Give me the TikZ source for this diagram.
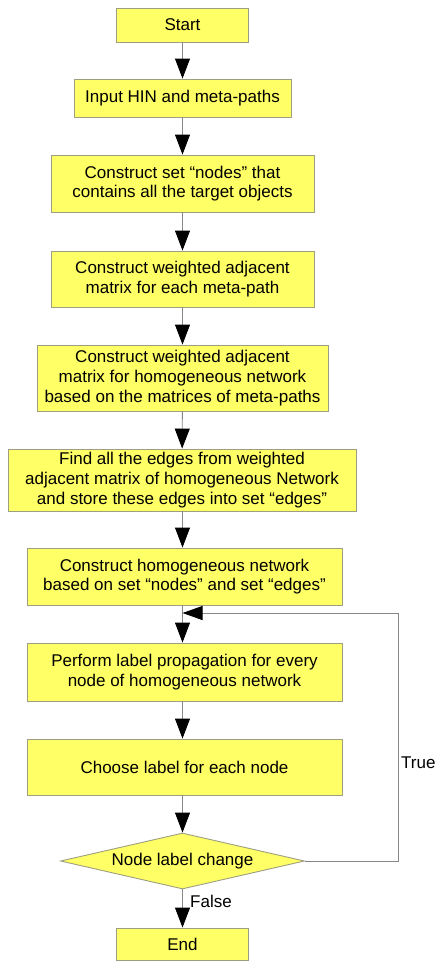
\documentclass[tikz,border=0pt]{standalone}
\usepackage{fontspec}
\setmainfont{Liberation Sans}
\usetikzlibrary{shapes.geometric,arrows.meta}
\definecolor{boxfill}{RGB}{255,255,102}
\definecolor{boxline}{RGB}{158,158,128}
\definecolor{wire}{RGB}{135,135,135}
\tikzset{
  flowbox/.style={draw=boxline, fill=boxfill, line width=0.9pt, inner sep=0pt,
    align=center, font=\fontsize{17}{19.6}\selectfont, text=black},
  decision/.style={flowbox, diamond, aspect=4.36},
  arr/.style={draw=wire, line width=0.9pt,
    -{Triangle[width=15pt,length=20pt,color=black]}},
  backarr/.style={draw=wire, line width=0.9pt,
    -{Triangle[width=14pt,length=20pt,color=black]}},
  lbl/.style={font=\fontsize{17}{19.6}\selectfont, inner sep=0pt, text=black}
}
\begin{document}
\begin{tikzpicture}[x=1pt,y=-1pt]
\useasboundingbox (0,0) rectangle (435,962);

\node[flowbox, minimum width=132pt, minimum height=34pt] (start) at (182.5,25) {Start};
\node[flowbox, minimum width=217pt, minimum height=38pt] (input) at (182.5,98) {Input HIN and meta-paths};
\node[flowbox, minimum width=263pt, minimum height=57pt] (nodeset) at (182.5,183.5)
  {Construct set “nodes” that\\contains all the target objects};
\node[flowbox, minimum width=263pt, minimum height=56pt] (wadj) at (182.5,279)
  {Construct weighted adjacent\\matrix for each meta-path};
\node[flowbox, minimum width=291pt, minimum height=66pt] (hadj) at (182.5,378)
  {Construct weighted adjacent\\matrix for homogeneous network\\based on the matrices of meta-paths};
\node[flowbox, minimum width=348pt, minimum height=62pt] (edges) at (182,480)
  {Find all the edges from weighted\\adjacent matrix of homogeneous Network\\and store these edges into set “edges”};
\node[flowbox, minimum width=315pt, minimum height=57pt] (hnet) at (184.5,576.5)
  {Construct homogeneous network\\based on set “nodes” and set “edges”};
\node[flowbox, minimum width=315pt, minimum height=58pt] (prop) at (184.5,672)
  {Perform label propagation for every\\node of homogeneous network};
\node[flowbox, minimum width=315pt, minimum height=56pt] (choose) at (184.5,767)
  {Choose label for each node};
\node[decision, minimum width=244pt, minimum height=56pt] (change) at (182.5,861)
  {Node label change};
\node[flowbox, minimum width=132pt, minimum height=32pt] (stop) at (182.5,944) {End};

% main flow
\draw[arr] (start) -- (input);
\draw[arr] (input) -- (nodeset);
\draw[arr] (nodeset) -- (wadj);
\draw[arr] (wadj) -- (hadj);
\draw[arr] (hadj) -- (edges);
\draw[arr] (hnet.south -| start) -- (prop.north -| start);
\draw[arr] (edges.south -| start) -- (hnet.north -| start);
\draw[arr] (prop.south -| start) -- (choose.north -| start);
\draw[arr] (choose.south -| start) -- (change);
\draw[arr] (change) -- (stop);

% loop back when labels changed
\coordinate (loopR) at (398,861);
\coordinate (loopT) at (398,613);
\coordinate (joint) at (start |- loopT);
\draw[backarr] (change.east) -- (loopR) -- (loopT) -- (joint);

\node[lbl, anchor=west] (truelbl) at (401,763) {True};
\node[lbl, anchor=west] (falselbl) at (190,901) {False};
\end{tikzpicture}
\end{document}
